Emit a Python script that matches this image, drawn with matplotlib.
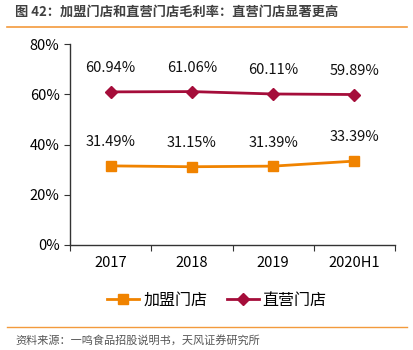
import matplotlib
matplotlib.use("Agg")
import matplotlib.pyplot as plt
from matplotlib.lines import Line2D

plt.rcParams['font.family'] = ['Noto Sans CJK SC', 'DejaVu Sans']

categories = ['2017', '2018', '2019', '2020H1']
franchise = [31.49, 31.15, 31.39, 33.39]
direct = [60.94, 61.06, 60.11, 59.89]
yticks = [0, 20, 40, 60, 80]

orange = '#F08300'
red = '#A50D3A'

fig = plt.figure(figsize=(4.13, 3.5), dpi=100)
ax = fig.add_axes([70/413, 105/350, 325/413, 201/350])

x = list(range(len(categories)))
ax.plot(x, franchise, color=orange, lw=2, marker='s', ms=7, label='加盟门店')
ax.plot(x, direct, color=red, lw=2, marker='D', ms=6, label='直营门店')

for xi, v in zip(x, franchise):
    ax.annotate(f'{v:.2f}%', (xi, v), xytext=(0, 17), textcoords='offset points',
                ha='center', va='center', fontsize=10.5, color='#111111')
for xi, v in zip(x, direct):
    ax.annotate(f'{v:.2f}%', (xi, v), xytext=(0, 17), textcoords='offset points',
                ha='center', va='center', fontsize=10.5, color='#111111')

ax.set_xlim(-0.5, len(categories) - 0.5)
ax.set_ylim(0, 80)
ax.set_yticks(yticks)
ax.set_yticklabels([f'{t}%' for t in yticks], fontsize=10.5)
ax.set_xticks([i - 0.5 for i in range(len(categories) + 1)])
ax.set_xticklabels([])
ax.set_xticks(x, minor=True)
ax.set_xticklabels(categories, minor=True, fontsize=10.5)
ax.tick_params(axis='x', which='minor', length=0, pad=8)
ax.tick_params(axis='x', which='major', length=4, direction='out', color='#333333')
ax.tick_params(axis='y', length=4, direction='out', color='#333333')
for s in ['top', 'right']:
    ax.spines[s].set_visible(False)
for s in ['left', 'bottom']:
    ax.spines[s].set_color('#333333')
    ax.spines[s].set_linewidth(1)

leg = fig.legend(handles=ax.get_lines(), loc='center', bbox_to_anchor=(217/413, 1 - 300/350),
                 ncol=2, frameon=False, fontsize=11.5, handlelength=2.0, columnspacing=1.2,
                 handletextpad=0.25)

fig.text(15/413, 1 - 12/350, '图 42：加盟门店和直营门店毛利率：直营门店显著更高', fontsize=9.5,
         fontweight='bold', color='#404040', ha='left', va='center')
fig.add_artist(Line2D([7/413, 407/413], [1 - 27/350, 1 - 27/350], color='#F39A3C', lw=1.2))
fig.add_artist(Line2D([7/413, 407/413], [1 - 327/350, 1 - 327/350], color='#F39A3C', lw=1.0))
fig.text(15/413, 1 - 340/350, '资料来源：一鸣食品招股说明书，天风证券研究所', fontsize=8,
         color='#555555', ha='left', va='center')

fig.savefig('out.png', dpi=100)
